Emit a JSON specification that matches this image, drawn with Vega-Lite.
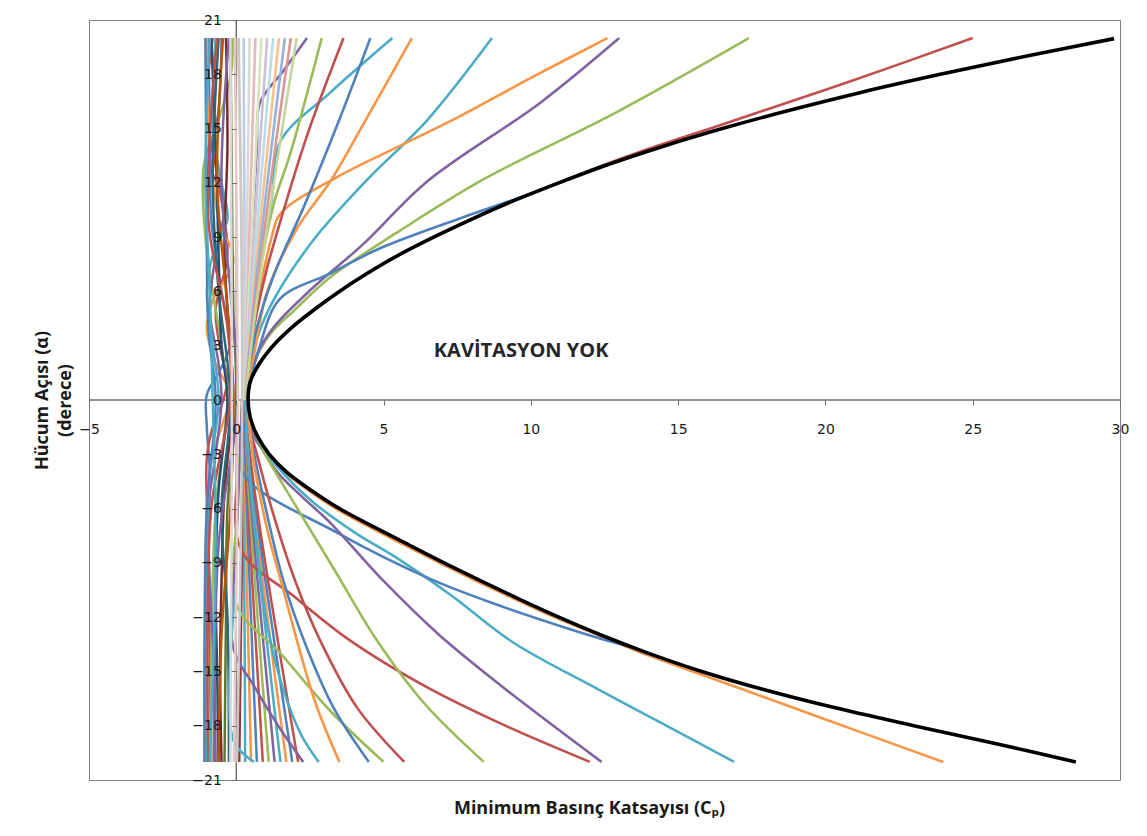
{
"$schema": "https://vega.github.io/schema/vega-lite/v6.json",
"width": 1031, "height": 760,
"autosize": {"type": "none"},
"padding": {"left": 89, "top": 20, "right": 27, "bottom": 56},
"background": "white",
"config": {"view": {"stroke": "#7f7f7f", "strokeWidth": 1}},
"datasets": {
"bundle": [
{"s":"a01","y":20,"x":-0.95},{"s":"a01","y":15,"x":-0.9},{"s":"a01","y":10,"x":-0.85},{"s":"a01","y":6,"x":-0.5},{"s":"a01","y":3.1,"x":-0.2},{"s":"a01","y":1.5,"x":-0.6},{"s":"a01","y":0.3,"x":-1.0},{"s":"a01","y":-1.5,"x":-1.0},{"s":"a01","y":-4,"x":-0.9},{"s":"a01","y":-8,"x":-0.95},{"s":"a01","y":-14,"x":-1.0},{"s":"a01","y":-20,"x":-1.0},
{"s":"a02","y":20,"x":-0.8},{"s":"a02","y":16,"x":-1.0},{"s":"a02","y":12,"x":-0.6},{"s":"a02","y":8,"x":-0.3},{"s":"a02","y":5,"x":-0.7},{"s":"a02","y":2.5,"x":-0.5},{"s":"a02","y":1.2,"x":-0.3},{"s":"a02","y":0,"x":-0.44},{"s":"a02","y":-1.5,"x":-0.8},{"s":"a02","y":-3.2,"x":-1.0},{"s":"a02","y":-8,"x":-0.95},{"s":"a02","y":-14,"x":-0.9},{"s":"a02","y":-20,"x":-0.85},
{"s":"a03","y":20,"x":-1.0},{"s":"a03","y":14,"x":-0.9},{"s":"a03","y":10,"x":-0.6},{"s":"a03","y":7.7,"x":-0.1},{"s":"a03","y":5.5,"x":-0.8},{"s":"a03","y":4,"x":-1.0},{"s":"a03","y":2,"x":-0.7},{"s":"a03","y":0.3,"x":-0.2},{"s":"a03","y":-1,"x":-0.4},{"s":"a03","y":-3,"x":-0.8},{"s":"a03","y":-6,"x":-1.0},{"s":"a03","y":-12,"x":-1.05},{"s":"a03","y":-20,"x":-1.05},
{"s":"a04","y":20,"x":-0.1},{"s":"a04","y":17.8,"x":-0.2},{"s":"a04","y":15.5,"x":-0.6},{"s":"a04","y":13,"x":-1.1},{"s":"a04","y":9,"x":-1.05},{"s":"a04","y":6,"x":-0.8},{"s":"a04","y":3,"x":-0.5},{"s":"a04","y":0,"x":-0.3},{"s":"a04","y":-3,"x":-0.5},{"s":"a04","y":-6,"x":-0.7},{"s":"a04","y":-10,"x":-0.8},{"s":"a04","y":-15,"x":-0.85},{"s":"a04","y":-20,"x":-0.85},
{"s":"a05","y":20,"x":-0.5},{"s":"a05","y":16,"x":-0.6},{"s":"a05","y":13,"x":-0.9},{"s":"a05","y":11,"x":-0.4},{"s":"a05","y":8,"x":-0.7},{"s":"a05","y":5,"x":-0.9},{"s":"a05","y":2,"x":-0.6},{"s":"a05","y":0,"x":-0.5},{"s":"a05","y":-3,"x":-0.7},{"s":"a05","y":-6,"x":-0.95},{"s":"a05","y":-10,"x":-0.9},{"s":"a05","y":-15,"x":-0.75},{"s":"a05","y":-20,"x":-0.7},
{"s":"a06","y":20,"x":-0.7},{"s":"a06","y":15,"x":-0.8},{"s":"a06","y":12,"x":-0.5},{"s":"a06","y":10,"x":-0.3},{"s":"a06","y":8,"x":-0.8},{"s":"a06","y":6,"x":-1.0},{"s":"a06","y":3,"x":-0.8},{"s":"a06","y":0,"x":-0.6},{"s":"a06","y":-4,"x":-0.9},{"s":"a06","y":-8,"x":-1.0},{"s":"a06","y":-12,"x":-1.0},{"s":"a06","y":-16,"x":-1.0},{"s":"a06","y":-20,"x":-1.0},
{"s":"a07","y":20,"x":-0.85},{"s":"a07","y":14,"x":-0.7},{"s":"a07","y":8,"x":-0.6},{"s":"a07","y":3,"x":-0.5},{"s":"a07","y":0,"x":-0.3},{"s":"a07","y":-5,"x":-0.6},{"s":"a07","y":-10,"x":-0.7},{"s":"a07","y":-15,"x":-0.65},{"s":"a07","y":-20,"x":-0.6},
{"s":"a08","y":20,"x":-0.35},{"s":"a08","y":14,"x":-0.3},{"s":"a08","y":8,"x":-0.4},{"s":"a08","y":3,"x":-0.2},{"s":"a08","y":0,"x":-0.1},{"s":"a08","y":-5,"x":-0.4},{"s":"a08","y":-10,"x":-0.5},{"s":"a08","y":-15,"x":-0.55},{"s":"a08","y":-20,"x":-0.5},
{"s":"a09","y":20,"x":-0.2},{"s":"a09","y":12,"x":-0.15},{"s":"a09","y":5,"x":-0.1},{"s":"a09","y":0,"x":0},{"s":"a09","y":-6,"x":-0.3},{"s":"a09","y":-12,"x":-0.35},{"s":"a09","y":-20,"x":-0.4},
{"s":"a10","y":20,"x":-0.6},{"s":"a10","y":12,"x":-0.8},{"s":"a10","y":6,"x":-0.6},{"s":"a10","y":0,"x":-0.2},{"s":"a10","y":-6,"x":-0.5},{"s":"a10","y":-12,"x":-0.3},{"s":"a10","y":-20,"x":-0.25},
{"s":"a11","y":20,"x":-0.45},{"s":"a11","y":12,"x":-0.65},{"s":"a11","y":6,"x":-0.35},{"s":"a11","y":0,"x":-0.1},{"s":"a11","y":-6,"x":-0.2},{"s":"a11","y":-13,"x":-0.5},{"s":"a11","y":-20,"x":-0.6},
{"s":"a12","y":20,"x":-1.05},{"s":"a12","y":10,"x":-1.0},{"s":"a12","y":4,"x":-0.95},{"s":"a12","y":0,"x":-0.7},{"s":"a12","y":-6,"x":-1.0},{"s":"a12","y":-20,"x":-1.08},
{"s":"a13","y":20,"x":-0.65},{"s":"a13","y":10,"x":-0.95},{"s":"a13","y":4,"x":-0.3},{"s":"a13","y":0,"x":-0.2},{"s":"a13","y":-6,"x":-0.85},{"s":"a13","y":-20,"x":-0.95},
{"s":"a14","y":20,"x":-0.25},{"s":"a14","y":12,"x":-0.5},{"s":"a14","y":6,"x":-0.2},{"s":"a14","y":0,"x":0.05},{"s":"a14","y":-8,"x":-0.6},{"s":"a14","y":-20,"x":-0.75},
{"s":"a15","y":20,"x":-0.9},{"s":"a15","y":12,"x":-1.05},{"s":"a15","y":6,"x":-0.9},{"s":"a15","y":0,"x":-0.8},{"s":"a15","y":-8,"x":-0.7},{"s":"a15","y":-20,"x":-0.9},
{"s":"b01","y":0,"x":0.25},{"s":"b01","y":-5,"x":0.22},{"s":"b01","y":-10,"x":0.18},{"s":"b01","y":-15,"x":0.14},{"s":"b01","y":-20,"x":0.1},
{"s":"b02","y":0,"x":0.25},{"s":"b02","y":-5,"x":0.26},{"s":"b02","y":-10,"x":0.27},{"s":"b02","y":-15,"x":0.29},{"s":"b02","y":-20,"x":0.3},
{"s":"b03","y":0,"x":0.25},{"s":"b03","y":-5,"x":0.3},{"s":"b03","y":-10,"x":0.36},{"s":"b03","y":-15,"x":0.43},{"s":"b03","y":-20,"x":0.5},
{"s":"b04","y":0,"x":0.25},{"s":"b04","y":-5,"x":0.34},{"s":"b04","y":-10,"x":0.45},{"s":"b04","y":-15,"x":0.57},{"s":"b04","y":-20,"x":0.7},
{"s":"b05","y":0,"x":0.25},{"s":"b05","y":-5,"x":0.38},{"s":"b05","y":-10,"x":0.54},{"s":"b05","y":-15,"x":0.72},{"s":"b05","y":-20,"x":0.9},
{"s":"b06","y":0,"x":0.25},{"s":"b06","y":-5,"x":0.42},{"s":"b06","y":-10,"x":0.63},{"s":"b06","y":-15,"x":0.86},{"s":"b06","y":-20,"x":1.1},
{"s":"b07","y":0,"x":0.25},{"s":"b07","y":-5,"x":0.46},{"s":"b07","y":-10,"x":0.72},{"s":"b07","y":-15,"x":1.01},{"s":"b07","y":-20,"x":1.3},
{"s":"b08","y":0,"x":0.25},{"s":"b08","y":-5,"x":0.5},{"s":"b08","y":-10,"x":0.81},{"s":"b08","y":-15,"x":1.15},{"s":"b08","y":-20,"x":1.5},
{"s":"b09","y":0,"x":0.25},{"s":"b09","y":-5,"x":0.54},{"s":"b09","y":-10,"x":0.9},{"s":"b09","y":-15,"x":1.29},{"s":"b09","y":-20,"x":1.7},
{"s":"b10","y":0,"x":0.25},{"s":"b10","y":-5,"x":0.58},{"s":"b10","y":-10,"x":0.99},{"s":"b10","y":-15,"x":1.44},{"s":"b10","y":-20,"x":1.9},
{"s":"b11","y":0,"x":0.25},{"s":"b11","y":-5,"x":0.62},{"s":"b11","y":-10,"x":1.08},{"s":"b11","y":-15,"x":1.58},{"s":"b11","y":-20,"x":2.1}
],
"main": [
{"s":"m01","x":0.4,"y":0},{"s":"m01","x":0.47,"y":1},{"s":"m01","x":0.78,"y":2},{"s":"m01","x":1.25,"y":3},{"s":"m01","x":1.88,"y":4},{"s":"m01","x":2.65,"y":5},{"s":"m01","x":3.5,"y":6},{"s":"m01","x":4.45,"y":7},{"s":"m01","x":5.5,"y":8},{"s":"m01","x":6.7,"y":9},{"s":"m01","x":8.0,"y":10},{"s":"m01","x":9.4,"y":11},{"s":"m01","x":10.95,"y":12},{"s":"m01","x":12.5,"y":13},{"s":"m01","x":13.5,"y":13.6},{"s":"m01","x":17.0,"y":15.5},{"s":"m01","x":21.0,"y":17.7},{"s":"m01","x":25.0,"y":20},
{"s":"m02","x":0.42,"y":0.5},{"s":"m02","x":0.6,"y":2.0},{"s":"m02","x":1.15,"y":3.65},{"s":"m02","x":2.0,"y":5.0},{"s":"m02","x":3.2,"y":6.8},{"s":"m02","x":5.5,"y":9.3},{"s":"m02","x":8.4,"y":12.2},{"s":"m02","x":12.9,"y":15.9},{"s":"m02","x":17.4,"y":20},
{"s":"m03","x":0.42,"y":0.5},{"s":"m03","x":0.7,"y":2.5},{"s":"m03","x":1.26,"y":4.0},{"s":"m03","x":2.6,"y":6.2},{"s":"m03","x":4.3,"y":8.6},{"s":"m03","x":6.5,"y":12.1},{"s":"m03","x":10.3,"y":16.4},{"s":"m03","x":13.0,"y":20},
{"s":"m04","x":0.35,"y":0},{"s":"m04","x":0.8,"y":3},{"s":"m04","x":1.49,"y":5.6},{"s":"m04","x":3.2,"y":7.0},{"s":"m04","x":4.9,"y":8.4},{"s":"m04","x":7.7,"y":10.1},{"s":"m04","x":9.64,"y":11.2},{"s":"m04","x":11.0,"y":12.05},{"s":"m04","x":12.5,"y":13.0},
{"s":"m05","x":0.35,"y":1.0},{"s":"m05","x":0.7,"y":3.4},{"s":"m05","x":1.26,"y":5.5},{"s":"m05","x":2.6,"y":8.8},{"s":"m05","x":4.4,"y":12.1},{"s":"m05","x":6.5,"y":15.5},{"s":"m05","x":8.68,"y":20},
{"s":"m06","x":0.32,"y":0},{"s":"m06","x":0.7,"y":5},{"s":"m06","x":1.2,"y":9},{"s":"m06","x":1.5,"y":10.3},{"s":"m06","x":3.4,"y":12.3},{"s":"m06","x":5.5,"y":14.0},{"s":"m06","x":7.5,"y":15.6},{"s":"m06","x":10.0,"y":17.8},{"s":"m06","x":12.6,"y":20},
{"s":"m07","x":0.32,"y":0.5},{"s":"m07","x":0.6,"y":2.5},{"s":"m07","x":1.05,"y":6.0},{"s":"m07","x":2.07,"y":9.5},{"s":"m07","x":3.2,"y":12.1},{"s":"m07","x":4.3,"y":15.2},{"s":"m07","x":5.96,"y":20},
{"s":"m08","x":0.3,"y":0},{"s":"m08","x":0.8,"y":7},{"s":"m08","x":1.2,"y":11},{"s":"m08","x":1.5,"y":14.3},{"s":"m08","x":3.2,"y":17.0},{"s":"m08","x":5.3,"y":20},
{"s":"m09","x":0.3,"y":0},{"s":"m09","x":0.5,"y":8},{"s":"m09","x":0.7,"y":14},{"s":"m09","x":0.8,"y":16.4},{"s":"m09","x":1.6,"y":18.2},{"s":"m09","x":2.4,"y":20},
{"s":"m10","x":0.3,"y":0.5},{"s":"m10","x":0.7,"y":4},{"s":"m10","x":1.3,"y":7},{"s":"m10","x":2.3,"y":10.7},{"s":"m10","x":3.5,"y":15.5},{"s":"m10","x":4.55,"y":20},
{"s":"m11","x":0.3,"y":0.5},{"s":"m11","x":0.6,"y":4},{"s":"m11","x":1.0,"y":7},{"s":"m11","x":1.5,"y":9.9},{"s":"m11","x":2.4,"y":14.6},{"s":"m11","x":3.64,"y":20},
{"s":"m12","x":0.3,"y":0.5},{"s":"m12","x":0.55,"y":4},{"s":"m12","x":0.9,"y":8},{"s":"m12","x":1.3,"y":11},{"s":"m12","x":1.83,"y":13.6},{"s":"m12","x":2.9,"y":20},
{"s":"n01","x":0.4,"y":0},{"s":"n01","x":0.45,"y":-1},{"s":"n01","x":0.68,"y":-2},{"s":"n01","x":1.06,"y":-3},{"s":"n01","x":1.65,"y":-4},{"s":"n01","x":2.45,"y":-5},{"s":"n01","x":3.38,"y":-6},{"s":"n01","x":4.5,"y":-7},{"s":"n01","x":5.7,"y":-8},{"s":"n01","x":6.9,"y":-9},{"s":"n01","x":8.15,"y":-10},{"s":"n01","x":9.45,"y":-11},{"s":"n01","x":10.8,"y":-12},{"s":"n01","x":12.3,"y":-13.0},{"s":"n01","x":13.8,"y":-14.0},{"s":"n01","x":15.5,"y":-15.0},{"s":"n01","x":18.4,"y":-16.7},{"s":"n01","x":21.1,"y":-18.3},{"s":"n01","x":24.0,"y":-20},
{"s":"n02","x":0.35,"y":0},{"s":"n02","x":0.4,"y":-1.5},{"s":"n02","x":1.3,"y":-3.5},{"s":"n02","x":2.5,"y":-5.5},{"s":"n02","x":4.0,"y":-7.3},{"s":"n02","x":5.47,"y":-8.75},{"s":"n02","x":7.3,"y":-10.8},{"s":"n02","x":9.4,"y":-13.4},{"s":"n02","x":12.3,"y":-16.0},{"s":"n02","x":14.6,"y":-18.0},{"s":"n02","x":16.9,"y":-20},
{"s":"n03","x":0.3,"y":0},{"s":"n03","x":0.25,"y":-2},{"s":"n03","x":0.24,"y":-4.1},{"s":"n03","x":3.5,"y":-7.4},{"s":"n03","x":6.6,"y":-9.9},{"s":"n03","x":9.0,"y":-11.4},{"s":"n03","x":11.2,"y":-12.6},{"s":"n03","x":12.6,"y":-13.3},{"s":"n03","x":13.4,"y":-13.65},
{"s":"n04","x":0.38,"y":0},{"s":"n04","x":0.4,"y":-1},{"s":"n04","x":0.8,"y":-2.5},{"s":"n04","x":1.4,"y":-4},{"s":"n04","x":2.2,"y":-5.3},{"s":"n04","x":3.2,"y":-6.8},{"s":"n04","x":5.0,"y":-10.0},{"s":"n04","x":6.9,"y":-13.0},{"s":"n04","x":9.0,"y":-15.8},{"s":"n04","x":12.4,"y":-20},
{"s":"n05","x":0.3,"y":0},{"s":"n05","x":0.2,"y":-2},{"s":"n05","x":0.14,"y":-8.2},{"s":"n05","x":2.0,"y":-10.9},{"s":"n05","x":3.87,"y":-13.3},{"s":"n05","x":6.5,"y":-15.9},{"s":"n05","x":9.0,"y":-17.9},{"s":"n05","x":12.0,"y":-20},
{"s":"n06","x":0.3,"y":0},{"s":"n06","x":0.5,"y":-1.2},{"s":"n06","x":0.92,"y":-2.8},{"s":"n06","x":2.0,"y":-5.8},{"s":"n06","x":3.3,"y":-9.3},{"s":"n06","x":4.8,"y":-13.35},{"s":"n06","x":6.4,"y":-16.8},{"s":"n06","x":8.4,"y":-20},
{"s":"n07","x":0.3,"y":0},{"s":"n07","x":0.45,"y":-1.5},{"s":"n07","x":0.7,"y":-3},{"s":"n07","x":1.2,"y":-6},{"s":"n07","x":2.0,"y":-10},{"s":"n07","x":2.85,"y":-13.3},{"s":"n07","x":4.1,"y":-17},{"s":"n07","x":5.7,"y":-20},
{"s":"n08","x":0.2,"y":0},{"s":"n08","x":0.05,"y":-6},{"s":"n08","x":0.0,"y":-11.3},{"s":"n08","x":1.5,"y":-14.0},{"s":"n08","x":3.2,"y":-17.2},{"s":"n08","x":5.0,"y":-20},
{"s":"n09","x":0.3,"y":0},{"s":"n09","x":0.55,"y":-2.5},{"s":"n09","x":1.0,"y":-6},{"s":"n09","x":1.6,"y":-10},{"s":"n09","x":2.3,"y":-13.3},{"s":"n09","x":3.3,"y":-17},{"s":"n09","x":4.5,"y":-20},
{"s":"n10","x":0.3,"y":0},{"s":"n10","x":0.45,"y":-1.5},{"s":"n10","x":0.6,"y":-3.5},{"s":"n10","x":1.1,"y":-7.5},{"s":"n10","x":1.6,"y":-10.5},{"s":"n10","x":2.07,"y":-13.35},{"s":"n10","x":2.7,"y":-16.8},{"s":"n10","x":3.5,"y":-20},
{"s":"n11","x":0.3,"y":0},{"s":"n11","x":0.45,"y":-4},{"s":"n11","x":0.7,"y":-8},{"s":"n11","x":1.0,"y":-12},{"s":"n11","x":1.5,"y":-15.5},{"s":"n11","x":2.2,"y":-18.5},{"s":"n11","x":2.8,"y":-20},
{"s":"n12","x":0.2,"y":0},{"s":"n12","x":0.0,"y":-8},{"s":"n12","x":-0.1,"y":-13.7},{"s":"n12","x":0.6,"y":-15.8},{"s":"n12","x":1.5,"y":-18.2},{"s":"n12","x":2.27,"y":-20},
{"s":"n13","x":0.0,"y":-10},{"s":"n13","x":-0.1,"y":-18.8},{"s":"n13","x":0.6,"y":-20}
],
"pale": [
{"s":"p01","y":0,"x":0.3},{"s":"p01","y":5,"x":0.25},{"s":"p01","y":10,"x":0.19},{"s":"p01","y":15,"x":0.12},{"s":"p01","y":20,"x":0.05},
{"s":"p02","y":0,"x":0.3},{"s":"p02","y":5,"x":0.29},{"s":"p02","y":10,"x":0.28},{"s":"p02","y":15,"x":0.26},{"s":"p02","y":20,"x":0.25},
{"s":"p03","y":0,"x":0.3},{"s":"p03","y":5,"x":0.33},{"s":"p03","y":10,"x":0.37},{"s":"p03","y":15,"x":0.41},{"s":"p03","y":20,"x":0.45},
{"s":"p04","y":0,"x":0.3},{"s":"p04","y":5,"x":0.37},{"s":"p04","y":10,"x":0.46},{"s":"p04","y":15,"x":0.55},{"s":"p04","y":20,"x":0.65},
{"s":"p05","y":0,"x":0.3},{"s":"p05","y":5,"x":0.41},{"s":"p05","y":10,"x":0.55},{"s":"p05","y":15,"x":0.7},{"s":"p05","y":20,"x":0.85},
{"s":"p06","y":0,"x":0.3},{"s":"p06","y":5,"x":0.45},{"s":"p06","y":10,"x":0.64},{"s":"p06","y":15,"x":0.84},{"s":"p06","y":20,"x":1.05},
{"s":"p07","y":0,"x":0.3},{"s":"p07","y":5,"x":0.49},{"s":"p07","y":10,"x":0.73},{"s":"p07","y":15,"x":0.98},{"s":"p07","y":20,"x":1.25},
{"s":"p08","y":0,"x":0.3},{"s":"p08","y":5,"x":0.53},{"s":"p08","y":10,"x":0.82},{"s":"p08","y":15,"x":1.13},{"s":"p08","y":20,"x":1.45},
{"s":"p09","y":0,"x":0.3},{"s":"p09","y":5,"x":0.57},{"s":"p09","y":10,"x":0.91},{"s":"p09","y":15,"x":1.27},{"s":"p09","y":20,"x":1.65},
{"s":"p10","y":0,"x":0.3},{"s":"p10","y":5,"x":0.62},{"s":"p10","y":10,"x":1.0},{"s":"p10","y":15,"x":1.41},{"s":"p10","y":20,"x":1.85},
{"s":"p11","y":0,"x":0.3},{"s":"p11","y":5,"x":0.66},{"s":"p11","y":10,"x":1.09},{"s":"p11","y":15,"x":1.56},{"s":"p11","y":20,"x":2.05},
{"s":"g01","y":20,"x":-0.2},{"s":"g01","y":0,"x":-0.15},{"s":"g01","y":-20,"x":-0.2},
{"s":"g02","y":20,"x":-0.05},{"s":"g02","y":0,"x":0.05},{"s":"g02","y":-20,"x":-0.08},
{"s":"g03","y":20,"x":0.08},{"s":"g03","y":0,"x":0.2},{"s":"g03","y":-20,"x":0.02}
],
"black": [
{"x":28.5,"y":-20},{"x":25.8,"y":-19},{"x":23.0,"y":-18},{"x":20.3,"y":-17},{"x":17.9,"y":-16},{"x":15.8,"y":-15},{"x":14.0,"y":-14},{"x":12.4,"y":-13},{"x":10.95,"y":-12},{"x":9.6,"y":-11},{"x":8.3,"y":-10},{"x":7.05,"y":-9},{"x":5.85,"y":-8},{"x":4.65,"y":-7},{"x":3.5,"y":-6},{"x":2.55,"y":-5},{"x":1.72,"y":-4},{"x":1.12,"y":-3},{"x":0.72,"y":-2},{"x":0.48,"y":-1},{"x":0.4,"y":0},{"x":0.47,"y":1},{"x":0.78,"y":2},{"x":1.25,"y":3},{"x":1.88,"y":4},{"x":2.65,"y":5},{"x":3.5,"y":6},{"x":4.45,"y":7},{"x":5.5,"y":8},{"x":6.7,"y":9},{"x":8.0,"y":10},{"x":9.4,"y":11},{"x":10.95,"y":12},{"x":12.6,"y":13},{"x":14.45,"y":14},{"x":16.5,"y":15},{"x":18.75,"y":16},{"x":21.2,"y":17},{"x":23.9,"y":18},{"x":26.8,"y":19},{"x":29.8,"y":19.97}
]
},
"resolve": {"scale": {"color": "independent"}},
"layer": [
{"data": {"values": [{"x": 0}]},
 "mark": {"type": "rule", "color": "#6f6f6f", "strokeWidth": 1.4},
 "encoding": {"x": {"field": "x", "type": "quantitative", "scale": {"domain": [-5, 30], "nice": false, "zero": false},
   "axis": {"values": [-5,0,5,10,15,20,25,30], "offset": -380, "zindex": 1, "domain": false, "grid": false,
     "title": "Minimum Basınç Katsayısı (Cₚ)", "titleX": 500, "titleY": 408, "titleBaseline": "middle", "titleAlign": "center",
     "titleFont": "Open Sans", "titleFontSize": 18, "titleFontWeight": "bold", "titleColor": "#1a1a1a",
     "labelFont": "DejaVu Sans", "labelFontSize": 14, "labelColor": "#1a1a1a", "labelPadding": 17, "labelFlush": false, "labelOverlap": false,
     "tickSize": 5, "tickColor": "#6f6f6f", "format": "d"}}}},
{"data": {"values": [{"y": 0}]},
 "mark": {"type": "rule", "color": "#6f6f6f", "strokeWidth": 1.4},
 "encoding": {"y": {"field": "y", "type": "quantitative", "scale": {"domain": [-21, 21], "nice": false, "zero": false},
   "axis": {"values": [-21,-18,-15,-12,-9,-6,-3,0,3,6,9,12,15,18,21], "offset": -147.3, "zindex": 1, "domain": false, "grid": false,
     "title": ["Hücum Açısı (α)", "(derece)"], "titleX": -194, "titleY": 380, "titleAngle": -90, "titleBaseline": "middle", "titleAlign": "center",
     "titleFont": "Open Sans", "titleFontSize": 18, "titleFontWeight": "bold", "titleColor": "#1a1a1a", "titleLineHeight": 23,
     "labelFont": "DejaVu Sans", "labelFontSize": 14, "labelColor": "#1a1a1a", "labelPadding": 10, "labelFlush": false, "labelOverlap": false,
     "tickSize": 5, "tickColor": "#6f6f6f", "format": "d"}}}},
{"data": {"name": "bundle"},
 "mark": {"type": "line", "strokeWidth": 2.5, "interpolate": "catmull-rom"},
 "encoding": {
   "x": {"field": "x", "type": "quantitative", "scale": {"domain": [-5, 30], "nice": false, "zero": false}},
   "y": {"field": "y", "type": "quantitative", "scale": {"domain": [-21, 21], "nice": false, "zero": false}},
   "order": {"field": "y", "type": "quantitative"},
   "color": {"field": "s", "type": "nominal", "legend": null, "scale": {
     "domain": ["a01","a02","a03","a04","a05","a06","a07","a08","a09","a10","a11","a12","a13","a14","a15","b01","b02","b03","b04","b05","b06","b07","b08","b09","b10","b11"],
     "range": ["#4F81BD","#C0504D","#F79646","#9BBB59","#8064A2","#4BACC6","#2C4D75","#772C2A","#5F7530","#276A7C","#B65708","#4F81BD","#C0504D","#8064A2","#4BACC6","#953735","#4BACC6","#F79646","#4F81BD","#C0504D","#9BBB59","#8064A2","#4BACC6","#F79646","#4F81BD","#C0504D"]}}}},
{"data": {"name": "main"},
 "mark": {"type": "line", "strokeWidth": 2.6, "interpolate": "catmull-rom"},
 "encoding": {
   "x": {"field": "x", "type": "quantitative", "scale": {"domain": [-5, 30], "nice": false, "zero": false}},
   "y": {"field": "y", "type": "quantitative", "scale": {"domain": [-21, 21], "nice": false, "zero": false}},
   "order": {"field": "y", "type": "quantitative"},
   "color": {"field": "s", "type": "nominal", "legend": null, "scale": {
     "domain": ["m01","m02","m03","m04","m05","m06","m07","m08","m09","m10","m11","m12","n01","n02","n03","n04","n05","n06","n07","n08","n09","n10","n11","n12","n13"],
     "range": ["#C0504D","#9BBB59","#8064A2","#4F81BD","#4BACC6","#F79646","#F79646","#4BACC6","#8064A2","#4F81BD","#C0504D","#9BBB59","#F79646","#4BACC6","#4F81BD","#8064A2","#C0504D","#9BBB59","#C0504D","#9BBB59","#4F81BD","#F79646","#4BACC6","#8064A2","#4BACC6"]}}}},
{"data": {"name": "pale"},
 "mark": {"type": "line", "strokeWidth": 2.6, "interpolate": "catmull-rom"},
 "encoding": {
   "x": {"field": "x", "type": "quantitative", "scale": {"domain": [-5, 30], "nice": false, "zero": false}},
   "y": {"field": "y", "type": "quantitative", "scale": {"domain": [-21, 21], "nice": false, "zero": false}},
   "order": {"field": "y", "type": "quantitative"},
   "color": {"field": "s", "type": "nominal", "legend": null, "scale": {
     "domain": ["p01","p02","p03","p04","p05","p06","p07","p08","p09","p10","p11","g01","g02","g03"],
     "range": ["#FCD5B5","#B9CDE5","#D9D9D9","#E6B9B8","#D7E4BD","#CCC1DA","#B7DEE8","#FAC090","#95B3D7","#D99694","#C3D69B","#D9D9D9","#E6C9C8","#C8C8C8"]}}}},
{"data": {"name": "black"},
 "mark": {"type": "line", "strokeWidth": 3.6, "color": "#000000", "interpolate": "catmull-rom"},
 "encoding": {
   "x": {"field": "x", "type": "quantitative", "scale": {"domain": [-5, 30], "nice": false, "zero": false}},
   "y": {"field": "y", "type": "quantitative", "scale": {"domain": [-21, 21], "nice": false, "zero": false}},
   "order": {"field": "y", "type": "quantitative"}}},
{"data": {"values": [{"x": 9.67, "y": 2.71, "t": "KAVİTASYON YOK"}]},
 "mark": {"type": "text", "font": "Open Sans", "fontSize": 20, "fontWeight": "bold", "color": "#262626"},
 "encoding": {
   "x": {"field": "x", "type": "quantitative", "scale": {"domain": [-5, 30], "nice": false, "zero": false}},
   "y": {"field": "y", "type": "quantitative", "scale": {"domain": [-21, 21], "nice": false, "zero": false}},
   "text": {"field": "t"}}}
]
}
